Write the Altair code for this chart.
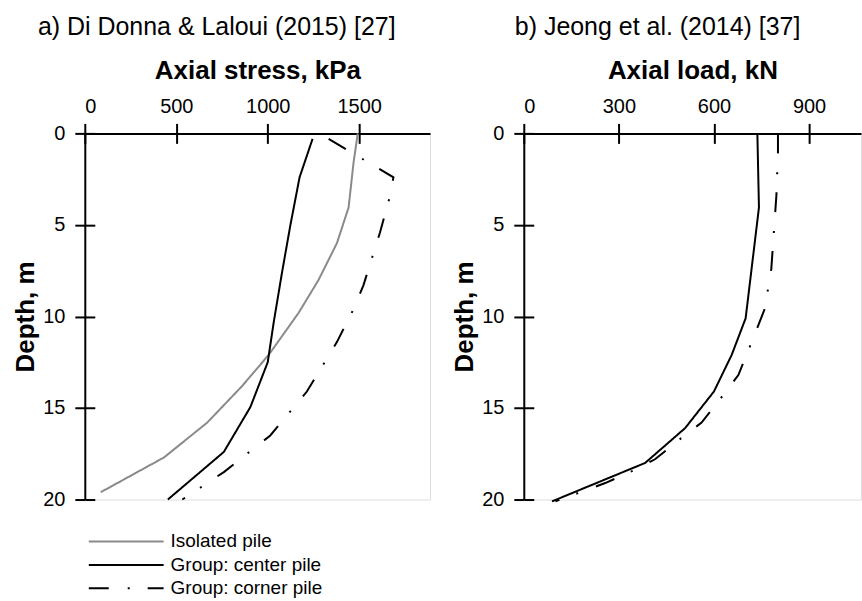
import altair as alt
import pandas as pd

FONT = "Liberation Sans"

series_names = ["Isolated pile", "Group: center pile", "Group: corner pile"]
series_colors = ["#8a8a8a", "#000000", "#000000"]
series_dashes = [[1, 0], [1, 0], [20, 19, 2, 18]]

# Panel a) Di Donna & Laloui (2015): axial stress (kPa) vs depth (m)
a_iso_depth = [0, 1.6, 4.05, 6.0, 8.0, 9.8, 12.1, 13.8, 15.8, 17.7, 19.6]
a_iso_stress = [1492, 1469, 1442, 1378, 1278, 1169, 1005, 860, 669, 433, 87]
a_center_depth = [0.3, 2.4, 5.0, 7.6, 10.3, 12.5, 14.95, 17.4, 20.0]
a_center_stress = [1245, 1174, 1124, 1078, 1033, 1000, 905, 760, 454]
a_corner_depth = [0.3, 2.4, 3.4, 5.4, 8.3, 9.6, 11.4, 14.1, 16.5, 18.5, 20.0]
a_corner_stress = [1333, 1687, 1669, 1614, 1523, 1469, 1378, 1214, 1014, 760, 533]

# Panel b) Jeong et al. (2014): axial load (kN) vs depth (m)
b_center_depth = [0, 4.05, 10.1, 12.1, 14.1, 16.1, 18.0, 20.1]
b_center_load = [737, 742, 700, 656, 600, 509, 383, 89]
b_corner_depth = [0, 1.0, 3.4, 7.4, 9.6, 11.4, 13.2, 14.3, 15.8, 16.6, 17.8, 18.4, 19.1, 20.1]
b_corner_load = [802, 802, 797, 781, 760, 719, 677, 629, 561, 500, 414, 348, 257, 100]

a_ticks = [0, 500, 1000, 1500]
b_ticks = [0, 300, 600, 900]
depth_ticks = [0, 5, 10, 15, 20]


def frame(series, depth, value):
    return pd.DataFrame({"series": series, "depth": depth, "value": value,
                         "idx": list(range(len(depth)))})


df_a = pd.concat([
    frame(series_names[0], a_iso_depth, a_iso_stress),
    frame(series_names[1], a_center_depth, a_center_stress),
    frame(series_names[2], a_corner_depth, a_corner_stress),
], ignore_index=True)

df_b = pd.concat([
    frame(series_names[1], b_center_depth, b_center_load),
    frame(series_names[2], b_corner_depth, b_corner_load),
], ignore_index=True)

legend_df = pd.DataFrame({"series": series_names})

color_enc = alt.Color("series:N", scale=alt.Scale(domain=series_names, range=series_colors), legend=None)
dash_enc = alt.StrokeDash("series:N", scale=alt.Scale(domain=series_names, range=series_dashes), legend=None)

W_A, W_B, H = 346, 338, 367


def panel(df, xmax, ticks, xtitle, title_text, title_dx, width, with_legend):
    xscale = alt.Scale(domain=[0, xmax], nice=False, zero=False)
    yscale = alt.Scale(domain=[0, 20], reverse=True, nice=False, zero=False)

    main_x = alt.X("value:Q", scale=xscale, axis=alt.Axis(
        orient="top", values=ticks, title=xtitle, tickSize=10, tickWidth=2,
        tickColor="black", domainColor="black", domainWidth=2, grid=False,
        labelFont=FONT, labelFontSize=20, labelColor="black", labelPadding=7,
        titleFont=FONT, titleFontSize=26, titleFontWeight="bold", titleColor="black",
        titlePadding=13, format="d"))
    main_y = alt.Y("depth:Q", scale=yscale, axis=alt.Axis(
        orient="left", values=depth_ticks, title="Depth, m", tickSize=10, tickWidth=2,
        tickColor="black", domainColor="black", domainWidth=2, grid=False,
        labelFont=FONT, labelFontSize=20, labelColor="black", labelPadding=10,
        titleFont=FONT, titleFontSize=26, titleFontWeight="bold", titleColor="black",
        titlePadding=4, format="d"))

    lines = alt.Chart(df).mark_line(strokeWidth=2).encode(
        x=main_x, y=main_y, color=color_enc, strokeDash=dash_enc, order="idx:Q")

    inner_x = alt.X("value:Q", scale=xscale, axis=alt.Axis(
        orient="top", values=ticks, offset=-10, tickSize=10, tickWidth=2,
        tickColor="black", domain=False, labels=False, title=None, grid=False))
    inner_y = alt.Y("depth:Q", scale=yscale, axis=alt.Axis(
        orient="left", values=depth_ticks, offset=-10, tickSize=10, tickWidth=2,
        tickColor="black", domain=False, labels=False, title=None, grid=False))
    ghost = alt.Chart(df).mark_line(opacity=0).encode(x=inner_x, y=inner_y, order="idx:Q")

    layers = [lines, ghost]
    if with_legend:
        ly = alt.Y("series:N", scale=alt.Scale(type="point", domain=series_names,
                                                range=[409, 456], padding=0), axis=None)
        leg_rules = alt.Chart(legend_df).mark_rule(strokeWidth=2).encode(
            x=alt.value(4), x2=alt.value(79), y=ly, color=color_enc, strokeDash=dash_enc)
        leg_text = alt.Chart(legend_df).mark_text(
            align="left", baseline="middle", font=FONT, fontSize=19, color="black").encode(
            x=alt.value(86), y=ly, text="series:N")
        layers += [leg_rules, leg_text]

    return alt.layer(*layers).resolve_axis(x="independent", y="independent").resolve_scale(
        y="independent").properties(
        width=width, height=H,
        title=alt.TitleParams(title_text, anchor="start", frame="group", dx=title_dx,
                              font=FONT, fontSize=25, fontWeight="normal", color="black",
                              offset=18))


pa = panel(df_a, 1887, a_ticks, "Axial stress, kPa", "a) Di Donna & Laloui (2015) [27]", -47, W_A, True)
pb = panel(df_b, 1064, b_ticks, "Axial load, kN", "b) Jeong et al. (2014) [37]", -9, W_B, False)

chart = alt.hconcat(pa, pb, spacing=20).properties(
    padding={"left": 12, "top": 13, "right": 0, "bottom": 0}
).configure_view(stroke=None).configure(background="white")

chart.save("out.html", embed_options={"renderer": "svg", "actions": False})
